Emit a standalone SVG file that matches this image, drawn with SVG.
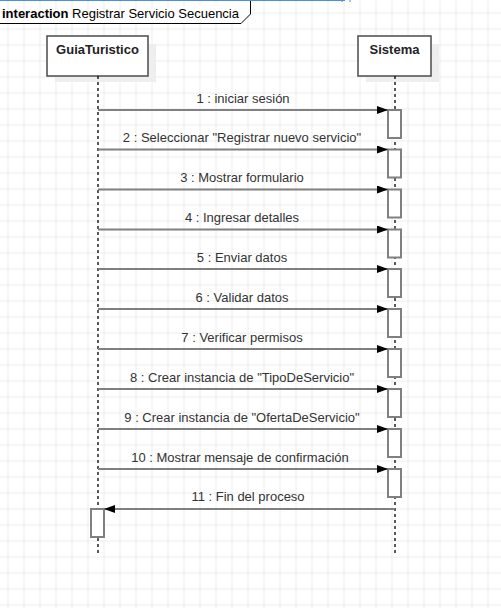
<svg xmlns="http://www.w3.org/2000/svg" width="501" height="608" viewBox="0 0 501 608">
<defs>
  <pattern id="grid" x="7.5" y="12.5" width="16" height="16" patternUnits="userSpaceOnUse">
    <path d="M0.5 0 V16 M0 0.5 H16" fill="none" stroke="#ececec" stroke-width="1"/>
  </pattern>
  <marker id="ah" viewBox="0 0 11 8" refX="11" refY="4" markerWidth="11" markerHeight="8" markerUnits="userSpaceOnUse" orient="auto">
    <path d="M0 0 L11 4 L0 8 Z" fill="#000"/>
  </marker>
  <style>
    .lbl{font-family:"Liberation Sans",Arial,sans-serif;font-size:13px;fill:#333;text-anchor:middle}
    .head{font-family:"Liberation Sans",Arial,sans-serif;font-size:13px;font-weight:bold;fill:#222;text-anchor:middle}
    .box{fill:#fff;stroke:#555;stroke-width:1.6}
    .shadow{fill:#eeeeee}
    .life{stroke:#000;stroke-width:1.3;stroke-dasharray:3 3;fill:none}
    .act{fill:#fff;stroke:#808080;stroke-width:2}
    .msg{stroke:#808080;stroke-width:2;fill:none;marker-end:url(#ah)}
  </style>
</defs>
<rect width="501" height="608" fill="#fff"/>
<rect x="-8.5" y="-3.5" width="520" height="620" fill="url(#grid)"/>

<g id="frame">
  <path d="M0 23.5 H241 L250.5 14 V0" fill="#fff" stroke="#000" stroke-width="1"/>
  <path d="M0 0.5 H345" stroke="#4a90e2" stroke-width="1"/>
  <path d="M342 0 V2 M350 0 V2" stroke="#4a90e2" stroke-width="1"/>
  <text x="2" y="18" font-family="Liberation Sans, Arial, sans-serif" font-size="13" fill="#000"><tspan font-weight="bold">interaction</tspan> Registrar Servicio Secuencia</text>
</g>

<g id="GuiaTuristico">
  <rect class="shadow" x="55" y="44" width="101" height="38"/>
  <rect class="box" x="47" y="36" width="101" height="40"/>
  <text class="head" x="97.5" y="54">GuiaTuristico</text>
  <line class="life" x1="98" y1="76" x2="98" y2="555"/>
  <rect class="act" x="91" y="509" width="13" height="28"/>
</g>

<g id="Sistema">
  <rect class="shadow" x="366" y="44" width="73" height="38"/>
  <rect class="box" x="358" y="36" width="73" height="40"/>
  <text class="head" x="394.5" y="54">Sistema</text>
  <line class="life" x1="395" y1="76" x2="395" y2="555"/>
  <rect class="act" x="388" y="110" width="13" height="28"/>
  <rect class="act" x="388" y="149.5" width="13" height="28"/>
  <rect class="act" x="388" y="189.5" width="13" height="28"/>
  <rect class="act" x="388" y="229.5" width="13" height="28"/>
  <rect class="act" x="388" y="269" width="13" height="28"/>
  <rect class="act" x="388" y="309" width="13" height="28"/>
  <rect class="act" x="388" y="349" width="13" height="28"/>
  <rect class="act" x="388" y="389" width="13" height="28"/>
  <rect class="act" x="388" y="429" width="13" height="28"/>
  <rect class="act" x="388" y="469" width="13" height="28"/>
</g>

<g id="connectors">
  <line class="msg" x1="98" y1="110" x2="388" y2="110"/>
  <text class="lbl" x="243" y="102.5">1 : iniciar sesión</text>
  <line class="msg" x1="98" y1="149.5" x2="388" y2="149.5"/>
  <text class="lbl" x="242" y="142">2 : Seleccionar "Registrar nuevo servicio"</text>
  <line class="msg" x1="98" y1="189.5" x2="388" y2="189.5"/>
  <text class="lbl" x="242" y="182">3 : Mostrar formulario</text>
  <line class="msg" x1="98" y1="229.5" x2="388" y2="229.5"/>
  <text class="lbl" x="242" y="222">4 : Ingresar detalles</text>
  <line class="msg" x1="98" y1="269" x2="388" y2="269"/>
  <text class="lbl" x="242" y="261.5">5 : Enviar datos</text>
  <line class="msg" x1="98" y1="309" x2="388" y2="309"/>
  <text class="lbl" x="242" y="301.5">6 : Validar datos</text>
  <line class="msg" x1="98" y1="349" x2="388" y2="349"/>
  <text class="lbl" x="242" y="341.5">7 : Verificar permisos</text>
  <line class="msg" x1="98" y1="389" x2="388" y2="389"/>
  <text class="lbl" x="242" y="381.5">8 : Crear instancia de "TipoDeServicio"</text>
  <line class="msg" x1="98" y1="429" x2="388" y2="429"/>
  <text class="lbl" x="242" y="421.5">9 : Crear instancia de "OfertaDeServicio"</text>
  <line class="msg" x1="98" y1="469" x2="388" y2="469"/>
  <text class="lbl" x="240" y="461.5">10 : Mostrar mensaje de confirmación</text>
  <line class="msg" x1="395" y1="509" x2="104" y2="509"/>
  <text class="lbl" x="248" y="501">11 : Fin del proceso</text>
</g>
</svg>
